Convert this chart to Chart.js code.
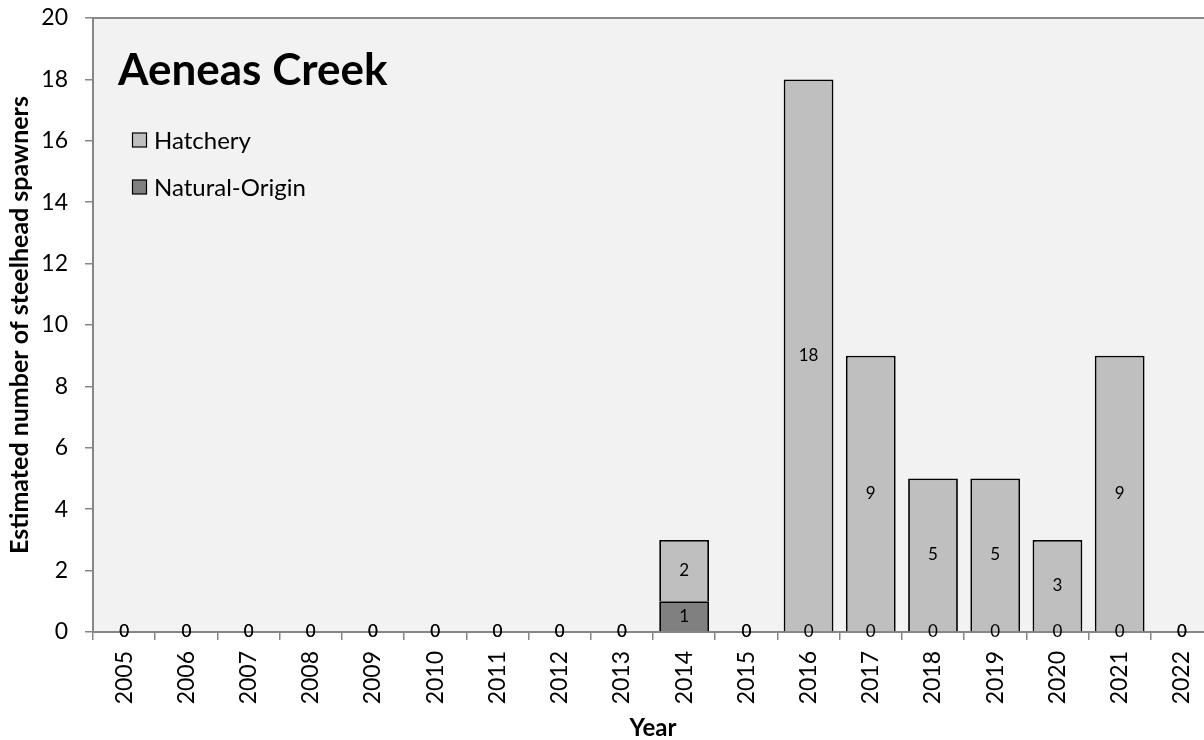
<!DOCTYPE html>
<html>
<head>
<meta charset="utf-8">
<script src="https://cdn.jsdelivr.net/npm/chart.js@4.4.1/dist/chart.umd.min.js"></script>
<style>
  html, body { margin: 0; padding: 0; overflow: hidden; background: #ffffff; }
  #wrap { width: 1220px; height: 740px; }
</style>
</head>
<body>
<div id="wrap"><canvas id="c" width="1220" height="740"></canvas></div>
<script>
// Spawner counts by return year
const years = ['2005','2006','2007','2008','2009','2010','2011','2012','2013','2014','2015','2016','2017','2018','2019','2020','2021','2022'];
const hatchery      = [0,0,0,0,0,0,0,0,0,2,0,18,9,5,5,3,9,0];
const naturalOrigin = [0,0,0,0,0,0,0,0,0,1,0,0,0,0,0,0,0,0];
const yTickValues   = [0,2,4,6,8,10,12,14,16,18,20];
const chartTitle = 'Aeneas Creek';

const FONT = 'Lato, "Open Sans", "DejaVu Sans", sans-serif';
const AXIS_GRAY = '#868686';

// Light gray plot background with a thin frame
const plotBackground = {
  id: 'plotBackground',
  beforeDraw(chart) {
    const a = chart.chartArea, ctx = chart.ctx;
    ctx.save();
    ctx.fillStyle = '#f2f2f2';
    ctx.fillRect(a.left, a.top, a.right - a.left, a.bottom - a.top);
    ctx.strokeStyle = AXIS_GRAY;
    ctx.lineWidth = 2;
    ctx.strokeRect(a.left, a.top, a.right - a.left, a.bottom - a.top);
    ctx.restore();
  }
};

// Value labels centred in each bar segment
const segmentLabels = {
  id: 'segmentLabels',
  afterDraw(chart) {
    const ctx = chart.ctx;
    ctx.save();
    ctx.font = '17px ' + FONT;
    ctx.fillStyle = '#000';
    ctx.textAlign = 'center';
    ctx.textBaseline = 'middle';
    chart.data.datasets.forEach((ds, i) => {
      const meta = chart.getDatasetMeta(i);
      meta.data.forEach((el, j) => {
        const v = ds.data[j];
        const y = (el.y + el.base) / 2;
        ctx.fillText(String(v), el.x, y);
      });
    });
    ctx.restore();
  }
};

// Title and legend inside the plot area
const titleAndKey = {
  id: 'titleAndKey',
  afterDraw(chart) {
    const ctx = chart.ctx;
    ctx.save();
    ctx.fillStyle = '#000';
    ctx.textAlign = 'left';
    ctx.textBaseline = 'alphabetic';
    ctx.font = 'bold 44px ' + FONT;
    ctx.fillText(chartTitle, 118, 85);

    const keys = [chart.data.datasets[1], chart.data.datasets[0]];
    const rows = [140, 187];
    ctx.font = '24px ' + FONT;
    ctx.textBaseline = 'middle';
    keys.forEach((ds, k) => {
      const cy = rows[k];
      ctx.fillStyle = ds.backgroundColor;
      ctx.fillRect(132.5, cy - 7, 14, 14);
      ctx.strokeStyle = '#000';
      ctx.lineWidth = 1.2;
      ctx.strokeRect(132.5, cy - 7, 14, 14);
      ctx.fillStyle = '#000';
      ctx.fillText(ds.label, 154, cy + 1);
    });
    ctx.restore();
  }
};

new Chart(document.getElementById('c'), {
  type: 'bar',
  data: {
    labels: years,
    datasets: [
      {
        label: 'Natural-Origin',
        data: naturalOrigin,
        backgroundColor: '#808080',
        borderColor: '#000000',
        borderWidth: 1.8
      },
      {
        label: 'Hatchery',
        data: hatchery,
        backgroundColor: '#bfbfbf',
        borderColor: '#000000',
        borderWidth: 1.8
      }
    ]
  },
  options: {
    responsive: false,
    animation: false,
    devicePixelRatio: 1,
    layout: { padding: { left: 0, top: 18, right: 7, bottom: 0 } },
    datasets: { bar: { barPercentage: 0.8, categoryPercentage: 1.0 } },
    plugins: {
      legend: { display: false },
      tooltip: { enabled: false },
      title: { display: false }
    },
    scales: {
      x: {
        stacked: true,
        offset: true,
        grid: { offset: true, drawOnChartArea: false, drawTicks: true, tickLength: 8, color: AXIS_GRAY, lineWidth: 1.5 },
        border: { display: true, color: AXIS_GRAY, width: 2 },
        ticks: { minRotation: 90, maxRotation: 90, color: '#000', font: { family: FONT, size: 23 }, padding: 11, autoSkip: false },
        title: { display: true, text: 'Year', color: '#000', font: { family: FONT, size: 24, weight: 'bold', lineHeight: 1 }, padding: { top: 0, bottom: 0 } },
        afterFit(scale) {
          scale.height = 108;
          scale.paddingLeft = 0;
          scale.paddingRight = 0;
        }
      },
      y: {
        stacked: true,
        min: 0,
        max: 20,
        afterBuildTicks(scale) { scale.ticks = yTickValues.map(v => ({ value: v })); },
        grid: { drawOnChartArea: false, drawTicks: true, tickLength: 8, color: AXIS_GRAY, lineWidth: 1.5 },
        border: { display: true, color: AXIS_GRAY, width: 2 },
        ticks: { color: '#000', font: { family: FONT, size: 23 }, padding: 17 },
        title: { display: true, text: 'Estimated number of steelhead spawners', color: '#000', font: { family: FONT, size: 25, weight: 'bold' }, padding: { top: 5, bottom: 0 } },
        afterFit(scale) {
          scale.width = 93;
          scale.paddingTop = 0;
          scale.paddingBottom = 0;
        }
      }
    }
  },
  plugins: [plotBackground, segmentLabels, titleAndKey]
});
</script>
</body>
</html>
